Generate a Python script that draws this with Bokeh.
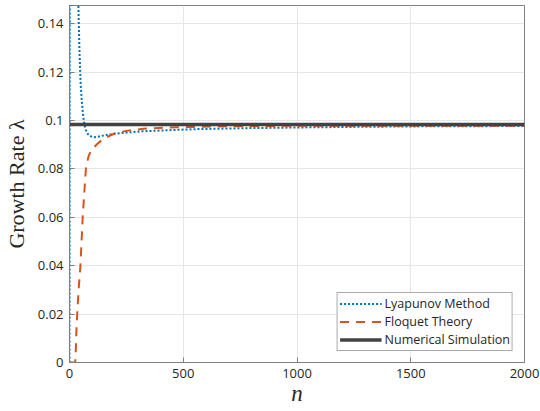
from bokeh.plotting import figure
from bokeh.models import Range1d, FixedTicker, CustomJSTickFormatter
from bokeh.embed import file_html
from bokeh.resources import INLINE

# ---- data ----
lyap_n = [0, 3, 8, 20, 30, 39, 44, 49, 54, 58, 62, 66, 72, 80, 90, 100, 108, 120, 135, 160, 195, 250, 320, 412, 550, 760, 1000, 1300, 1600, 2000]
lyap_v = [0.0, 0.30, 0.70, 0.80, 0.30, 0.1475, 0.128, 0.1153, 0.108, 0.104, 0.1005, 0.0982, 0.0960, 0.0945, 0.0936, 0.0932, 0.0931, 0.0932, 0.0935, 0.0940, 0.0945, 0.0950, 0.0955, 0.0959, 0.0964, 0.0968, 0.0971, 0.0974, 0.0976, 0.0977]

floq_n = [0, 25, 28, 31, 34, 40, 48, 53, 58, 65, 72, 83, 95, 123, 150, 195, 250, 325, 470, 760, 1000, 1500, 2000]
floq_v = [0.0, 0.0, 0.006, 0.015, 0.020, 0.030, 0.040, 0.050, 0.060, 0.070, 0.080, 0.0850, 0.0877, 0.0904, 0.0925, 0.0945, 0.0957, 0.0966, 0.0972, 0.0977, 0.0978, 0.0978, 0.0978]

sim_n = [0, 2000]
sim_v = [0.0983, 0.0983]

x_ticks = [0, 500, 1000, 1500, 2000]
y_ticks = [0, 0.02, 0.04, 0.06, 0.08, 0.10, 0.12, 0.14]

labels = ["Lyapunov Method", "Floquet Theory", "Numerical Simulation"]
x_label = "n"
y_label = "Growth Rate λ"

BLUE = "#0072BD"
ORANGE = "#D95319"
DARK = "#424242"
AXC = "#7f7f7f"
TXT = "#262626"

p = figure(width=540, height=411, output_backend="svg", toolbar_location=None,
           x_range=Range1d(0, 2000), y_range=Range1d(0, 0.1475),
           min_border_left=67, min_border_right=16, min_border_top=5, min_border_bottom=49,
           background_fill_color="white", border_fill_color="white")

p.outline_line_color = AXC
p.outline_line_width = 1

p.line(lyap_n, lyap_v, line_color=BLUE, line_width=2, line_dash="2 2", legend_label=labels[0])
p.line(floq_n, floq_v, line_color=ORANGE, line_width=2, line_dash="9 7", legend_label=labels[1])
p.line(sim_n, sim_v, line_color=DARK, line_width=3.5, legend_label=labels[2])

fmt = CustomJSTickFormatter(code="return String(Number(tick.toFixed(4)));")

xa = p.xaxis[0]
ya = p.yaxis[0]
xa.ticker = FixedTicker(ticks=x_ticks)
ya.ticker = FixedTicker(ticks=y_ticks)
ya.formatter = fmt
for ax in (xa, ya):
    ax.major_tick_in = 5
    ax.major_tick_out = 0
    ax.minor_tick_line_color = None
    ax.axis_line_color = AXC
    ax.major_tick_line_color = AXC
    ax.major_label_text_font = "Open Sans"
    ax.major_label_text_font_size = "13px"
    ax.major_label_text_color = TXT
    ax.axis_label_text_font = "Liberation Serif"
    ax.axis_label_text_color = TXT

xa.axis_label = x_label
xa.axis_label_text_font_style = "italic"
xa.axis_label_text_font_size = "23px"
xa.major_label_standoff = 6
xa.axis_label_standoff = 0
ya.axis_label = y_label
ya.axis_label_text_font_style = "normal"
ya.axis_label_text_font_size = "22px"
ya.major_label_standoff = 6
ya.axis_label_standoff = 6

p.xgrid.ticker = FixedTicker(ticks=x_ticks)
p.ygrid.ticker = FixedTicker(ticks=y_ticks)
p.grid.grid_line_color = "#e6e6e6"
p.grid.grid_line_width = 1

lg = p.legend[0]
lg.location = "bottom_right"
lg.margin = 11
lg.padding = 2
lg.spacing = 1
lg.glyph_width = 42
lg.glyph_height = 17
lg.label_height = 17
lg.label_standoff = 3
lg.label_text_font = "Open Sans"
lg.label_text_font_size = "12.5px"
lg.label_text_color = TXT
lg.border_line_color = "#555555"
lg.border_line_width = 1
lg.background_fill_alpha = 1

open("out.html", "w").write(file_html(p, INLINE))
